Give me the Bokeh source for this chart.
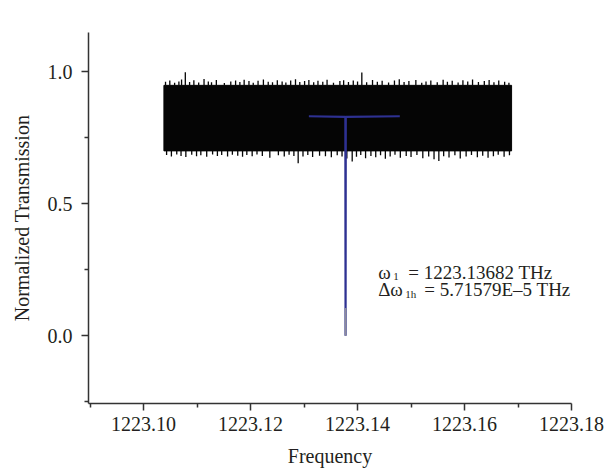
from bokeh.plotting import figure
from bokeh.models import Range1d, FixedTicker, PrintfTickFormatter, Label
from bokeh.embed import file_html
from bokeh.resources import INLINE

# ---------------- data ----------------
x_ticks = [1223.10, 1223.12, 1223.14, 1223.16, 1223.18]
x_minor = [1223.09, 1223.11, 1223.13, 1223.15, 1223.17]
y_ticks = [0.0, 0.5, 1.0]
y_minor = [-0.25, 0.25, 0.75]

# dense noisy transmission band (solid body + spikes on its edges)
band_start = [1223.1038]
band_end = [1223.1688]
band_low = [0.700]
band_high = [0.948]

upper_freq = [1223.1041, 1223.1049, 1223.1058, 1223.1066, 1223.1071, 1223.1078, 1223.1086, 1223.1094,
              1223.1103, 1223.1113, 1223.1121, 1223.1127, 1223.1136, 1223.1151, 1223.1163, 1223.1172,
              1223.1180, 1223.1188, 1223.1197, 1223.1205, 1223.1214, 1223.1224, 1223.1233, 1223.1241,
              1223.1250, 1223.1259, 1223.1266, 1223.1275, 1223.1284, 1223.1292, 1223.1301, 1223.1309,
              1223.1318, 1223.1326, 1223.1335, 1223.1343, 1223.1355, 1223.1367, 1223.1374, 1223.1383,
              1223.1392, 1223.1400, 1223.1408, 1223.1417, 1223.1428, 1223.1437, 1223.1446, 1223.1458,
              1223.1469, 1223.1478, 1223.1487, 1223.1496, 1223.1509, 1223.1520, 1223.1528, 1223.1537,
              1223.1549, 1223.1560, 1223.1568, 1223.1577, 1223.1588, 1223.1597, 1223.1606, 1223.1615,
              1223.1626, 1223.1637, 1223.1646, 1223.1655, 1223.1664, 1223.1675, 1223.1683]
upper_peak = [0.962, 0.966, 0.958, 0.963, 0.970, 0.998, 0.961, 0.967, 0.959, 0.972,
              0.963, 0.960, 0.968, 0.957, 0.963, 0.966, 0.961, 0.969, 0.964, 0.958,
              0.965, 0.970, 0.962, 0.960, 0.967, 0.963, 0.959, 0.966, 0.971, 0.961,
              0.964, 0.968, 0.960, 0.965, 0.962, 0.969, 0.958, 0.964, 0.967, 0.961,
              0.966, 0.963, 0.997, 0.960, 0.968, 0.962, 0.965, 0.959, 0.966, 0.971,
              0.961, 0.964, 0.968, 0.958, 0.963, 0.966, 0.960, 0.969, 0.962, 0.965,
              0.959, 0.967, 0.963, 0.970, 0.961, 0.964, 0.968, 0.960, 0.966, 0.962,
              0.958]

lower_freq = [1223.1043, 1223.1052, 1223.1062, 1223.1070, 1223.1079, 1223.1090, 1223.1099, 1223.1107,
              1223.1118, 1223.1129, 1223.1138, 1223.1146, 1223.1157, 1223.1166, 1223.1176, 1223.1185,
              1223.1193, 1223.1203, 1223.1212, 1223.1222, 1223.1236, 1223.1252, 1223.1263, 1223.1272,
              1223.1281, 1223.1289, 1223.1298, 1223.1307, 1223.1316, 1223.1329, 1223.1340, 1223.1351,
              1223.1362, 1223.1371, 1223.1380, 1223.1390, 1223.1398, 1223.1406, 1223.1415, 1223.1425,
              1223.1434, 1223.1443, 1223.1452, 1223.1461, 1223.1470, 1223.1480, 1223.1491, 1223.1500,
              1223.1511, 1223.1522, 1223.1533, 1223.1543, 1223.1552, 1223.1561, 1223.1571, 1223.1582,
              1223.1592, 1223.1603, 1223.1613, 1223.1624, 1223.1634, 1223.1644, 1223.1654, 1223.1663,
              1223.1674, 1223.1684]
lower_trough = [0.684, 0.679, 0.686, 0.681, 0.677, 0.685, 0.680, 0.683, 0.678, 0.686,
                0.681, 0.684, 0.679, 0.685, 0.682, 0.678, 0.684, 0.680, 0.686, 0.681,
                0.674, 0.683, 0.679, 0.685, 0.681, 0.653, 0.679, 0.684, 0.677, 0.682,
                0.680, 0.676, 0.683, 0.679, 0.671, 0.660, 0.678, 0.684, 0.672, 0.681,
                0.676, 0.683, 0.670, 0.679, 0.685, 0.674, 0.681, 0.677, 0.684, 0.672,
                0.679, 0.668, 0.662, 0.680, 0.675, 0.683, 0.671, 0.679, 0.684, 0.676,
                0.682, 0.674, 0.680, 0.685, 0.678, 0.683]

# resonance (blue Lorentzian fit, narrower than one pixel)
fit_freq = [1223.1309, 1223.13772, 1223.13776, 1223.13780, 1223.1479]
fit_trans = [0.831, 0.829, 0.0, 0.829, 0.831]
tail_freq = [1223.13776, 1223.13776]
tail_trans = [0.105, 0.0]

# ---------------- figure ----------------
FONT = "Liberation Serif"
TXT = "#231f20"

p = figure(width=613, height=474, output_backend="svg", toolbar_location=None,
           x_range=Range1d(1223.0897, 1223.18), y_range=Range1d(-0.256, 1.148),
           min_border_left=88, min_border_right=42, min_border_top=32, min_border_bottom=71)
p.outline_line_color = None
p.grid.visible = False
p.background_fill_color = "white"
p.border_fill_color = "white"

p.quad(left=band_start, right=band_end, bottom=band_low, top=band_high,
       fill_color="#050505", line_color="#050505", line_width=1)
p.segment(x0=upper_freq, y0=[band_high[0]] * len(upper_freq), x1=upper_freq, y1=upper_peak,
          line_color="#050505", line_width=1.3)
p.segment(x0=lower_freq, y0=[band_low[0]] * len(lower_freq), x1=lower_freq, y1=lower_trough,
          line_color="#050505", line_width=1.3)

p.line(fit_freq, fit_trans, line_color="#2e3192", line_width=2.2)
p.line(tail_freq, tail_trans, line_color="#8c8c9c", line_width=1.6)

for ax, ticks, minor, fmt in ((p.xaxis, x_ticks, x_minor, "%.2f"), (p.yaxis, y_ticks, y_minor, "%.1f")):
    ax.ticker = FixedTicker(ticks=ticks, minor_ticks=minor)
    ax.formatter = PrintfTickFormatter(format=fmt)
    ax.axis_line_color = "#333333"
    ax.axis_line_width = 1.5
    ax.major_tick_line_color = "#333333"
    ax.minor_tick_line_color = "#333333"
    ax.major_tick_line_width = 1.5
    ax.minor_tick_line_width = 1.5
    ax.major_tick_out = 7
    ax.major_tick_in = 0
    ax.minor_tick_out = 4
    ax.minor_tick_in = 0
    ax.major_label_text_font = FONT
    ax.major_label_text_font_size = "20px"
    ax.major_label_text_color = TXT
    ax.axis_label_text_font = FONT
    ax.axis_label_text_font_size = "20px"
    ax.axis_label_text_font_style = "normal"
    ax.axis_label_text_color = TXT

p.xaxis.axis_label = "Frequency"
p.yaxis.axis_label = "Normalized Transmission"
p.xaxis.major_label_standoff = 6
p.xaxis.axis_label_standoff = 11
p.yaxis.major_label_standoff = 9
p.yaxis.axis_label_standoff = 12

# annotation with subscripts
ax0 = 1223.14388
y1 = 0.2386
y2 = 0.174
sub = 4 / 264.0
notes = [
    ("ω", ax0, y1, 0, "19px"),
    ("1", ax0, y1 - sub, 15, "11px"),
    ("= 1223.13682 THz", ax0, y1, 30, "19px"),
    ("Δ", ax0, y2, 0, "19px"),
    ("ω", ax0, y2, 12, "19px"),
    ("1h", ax0, y2 - sub, 27, "11px"),
    ("= 5.71579E–5 THz", ax0, y2, 46, "19px"),
]
for t, x, y, off, fs in notes:
    p.add_layout(Label(x=x, y=y, x_offset=off, text=t, text_font=FONT, text_font_size=fs,
                       text_color=TXT, text_baseline="alphabetic", text_align="left"))

open("out.html", "w").write(file_html(p, INLINE))
